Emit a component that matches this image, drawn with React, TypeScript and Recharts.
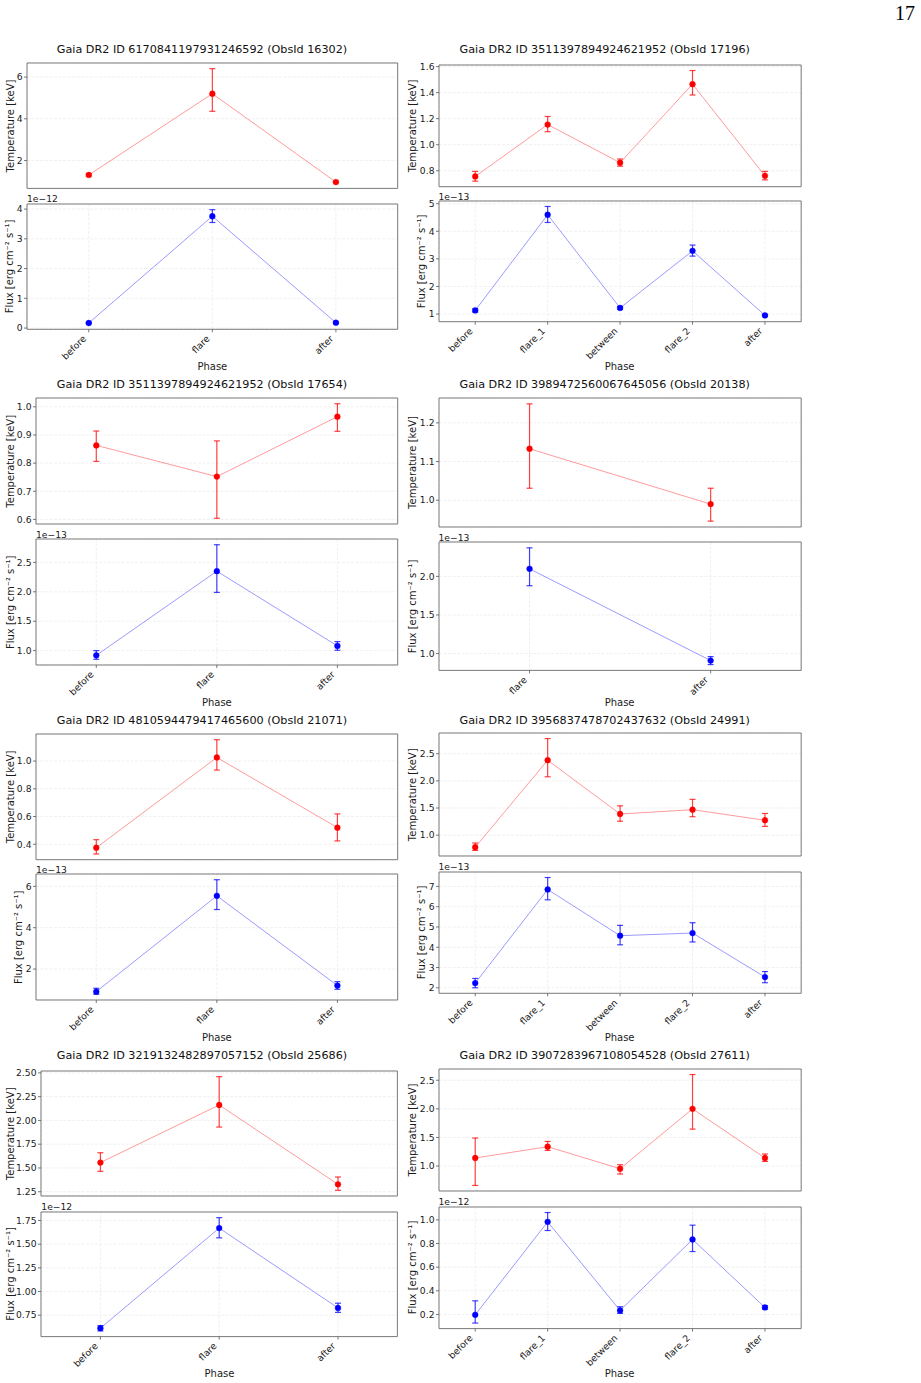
import React from 'react';
import { LineChart, Line, XAxis, YAxis, CartesianGrid, ErrorBar, ReferenceArea } from 'recharts';

const FONT = '"DejaVu Sans", Verdana, sans-serif';
const RED = '#ff0000';
const BLUE = '#0000ff';

// Phase sequences used by the observations
const phasesSingle = ['before', 'flare', 'after'];
const phasesDouble = ['before', 'flare_1', 'between', 'flare_2', 'after'];
const phasesLate = ['flare', 'after'];

// ObsId 16302 — Gaia DR2 6170841197931246592 (flux in 1e-12)
const kT16302 = [1.31, 5.2, 0.97];
const kT16302Lo = [1.25, 4.36, 0.94];
const kT16302Hi = [1.37, 6.4, 1.0];
const fx16302 = [0.17, 3.76, 0.18];
const fx16302Lo = [0.15, 3.55, 0.16];
const fx16302Hi = [0.19, 3.98, 0.2];

// ObsId 17196 — Gaia DR2 3511397894924621952 (flux in 1e-13)
const kT17196 = [0.756, 1.155, 0.862, 1.465, 0.761];
const kT17196Lo = [0.72, 1.1, 0.835, 1.382, 0.73];
const kT17196Hi = [0.795, 1.217, 0.89, 1.57, 0.795];
const fx17196 = [1.13, 4.6, 1.22, 3.29, 0.95];
const fx17196Lo = [1.07, 4.32, 1.17, 3.1, 0.92];
const fx17196Hi = [1.19, 4.9, 1.27, 3.5, 0.98];

// ObsId 17654 — Gaia DR2 3511397894924621952 (flux in 1e-13)
const kT17654 = [0.863, 0.752, 0.965];
const kT17654Lo = [0.806, 0.604, 0.913];
const kT17654Hi = [0.914, 0.879, 1.011];
const fx17654 = [0.92, 2.35, 1.08];
const fx17654Lo = [0.853, 1.99, 1.006];
const fx17654Hi = [1.0, 2.8, 1.153];

// ObsId 20138 — Gaia DR2 3989472560067645056 (flux in 1e-13)
const kT20138 = [1.133, 0.99];
const kT20138Lo = [1.031, 0.946];
const kT20138Hi = [1.249, 1.031];
const fx20138 = [2.098, 0.91];
const fx20138Lo = [1.879, 0.858];
const fx20138Hi = [2.37, 0.961];

// ObsId 21071 — Gaia DR2 4810594479417465600 (flux in 1e-13)
const kT21071 = [0.375, 1.026, 0.52];
const kT21071Lo = [0.33, 0.935, 0.424];
const kT21071Hi = [0.433, 1.154, 0.619];
const fx21071 = [0.907, 5.54, 1.2];
const fx21071Lo = [0.78, 4.88, 1.02];
const fx21071Hi = [1.07, 6.32, 1.39];

// ObsId 24991 — Gaia DR2 3956837478702437632 (flux in 1e-13)
const kT24991 = [0.78, 2.38, 1.39, 1.47, 1.275];
const kT24991Lo = [0.72, 2.075, 1.257, 1.34, 1.163];
const kT24991Hi = [0.856, 2.778, 1.54, 1.66, 1.4];
const fx24991 = [2.23, 6.85, 4.57, 4.7, 2.53];
const fx24991Lo = [2.0, 6.34, 4.12, 4.26, 2.25];
const fx24991Hi = [2.46, 7.44, 5.08, 5.21, 2.8];

// ObsId 25686 — Gaia DR2 3219132482897057152 (flux in 1e-12)
const kT25686 = [1.557, 2.162, 1.328];
const kT25686Lo = [1.465, 1.93, 1.265];
const kT25686Hi = [1.66, 2.46, 1.405];
const fx25686 = [0.613, 1.67, 0.827];
const fx25686Lo = [0.584, 1.567, 0.78];
const fx25686Hi = [0.64, 1.78, 0.877];

// ObsId 27611 — Gaia DR2 3907283967108054528 (flux in 1e-12)
const kT27611 = [1.14, 1.338, 0.953, 2.0, 1.14];
const kT27611Lo = [0.66, 1.273, 0.86, 1.645, 1.08];
const kT27611Hi = [1.49, 1.43, 1.023, 2.6, 1.21];
const fx27611 = [0.197, 0.983, 0.234, 0.834, 0.259];
const fx27611Lo = [0.127, 0.91, 0.209, 0.732, 0.245];
const fx27611Hi = [0.315, 1.062, 0.265, 0.955, 0.275];

// Y tick values
const ticksKT16302 = [2, 4, 6];
const ticksFx16302 = [0, 1, 2, 3, 4];
const ticksKT17196 = [0.8, 1.0, 1.2, 1.4, 1.6];
const ticksFx17196 = [1, 2, 3, 4, 5];
const ticksKT17654 = [0.6, 0.7, 0.8, 0.9, 1.0];
const ticksFx17654 = [1.0, 1.5, 2.0, 2.5];
const ticksKT20138 = [1.0, 1.1, 1.2];
const ticksFx20138 = [1.0, 1.5, 2.0];
const ticksKT21071 = [0.4, 0.6, 0.8, 1.0];
const ticksFx21071 = [2, 4, 6];
const ticksKT24991 = [1.0, 1.5, 2.0, 2.5];
const ticksFx24991 = [2, 3, 4, 5, 6, 7];
const ticksKT25686 = [1.25, 1.5, 1.75, 2.0, 2.25, 2.5];
const ticksFx25686 = [0.75, 1.0, 1.25, 1.5, 1.75];
const ticksKT27611 = [1.0, 1.5, 2.0, 2.5];
const ticksFx27611 = [0.2, 0.4, 0.6, 0.8, 1.0];

type Series = { val: number[]; lo: number[]; hi: number[]; ticks: number[]; dec: number };
type Obs = { gaia: string; obsId: string; phases: string[]; kT: Series; flux: Series; fluxExp: string };

const observations: Obs[] = [
  { gaia: '6170841197931246592', obsId: '16302', phases: phasesSingle, fluxExp: '1e\u221212',
    kT: { val: kT16302, lo: kT16302Lo, hi: kT16302Hi, ticks: ticksKT16302, dec: 0 },
    flux: { val: fx16302, lo: fx16302Lo, hi: fx16302Hi, ticks: ticksFx16302, dec: 0 } },
  { gaia: '3511397894924621952', obsId: '17196', phases: phasesDouble, fluxExp: '1e\u221213',
    kT: { val: kT17196, lo: kT17196Lo, hi: kT17196Hi, ticks: ticksKT17196, dec: 1 },
    flux: { val: fx17196, lo: fx17196Lo, hi: fx17196Hi, ticks: ticksFx17196, dec: 0 } },
  { gaia: '3511397894924621952', obsId: '17654', phases: phasesSingle, fluxExp: '1e\u221213',
    kT: { val: kT17654, lo: kT17654Lo, hi: kT17654Hi, ticks: ticksKT17654, dec: 1 },
    flux: { val: fx17654, lo: fx17654Lo, hi: fx17654Hi, ticks: ticksFx17654, dec: 1 } },
  { gaia: '3989472560067645056', obsId: '20138', phases: phasesLate, fluxExp: '1e\u221213',
    kT: { val: kT20138, lo: kT20138Lo, hi: kT20138Hi, ticks: ticksKT20138, dec: 1 },
    flux: { val: fx20138, lo: fx20138Lo, hi: fx20138Hi, ticks: ticksFx20138, dec: 1 } },
  { gaia: '4810594479417465600', obsId: '21071', phases: phasesSingle, fluxExp: '1e\u221213',
    kT: { val: kT21071, lo: kT21071Lo, hi: kT21071Hi, ticks: ticksKT21071, dec: 1 },
    flux: { val: fx21071, lo: fx21071Lo, hi: fx21071Hi, ticks: ticksFx21071, dec: 0 } },
  { gaia: '3956837478702437632', obsId: '24991', phases: phasesDouble, fluxExp: '1e\u221213',
    kT: { val: kT24991, lo: kT24991Lo, hi: kT24991Hi, ticks: ticksKT24991, dec: 1 },
    flux: { val: fx24991, lo: fx24991Lo, hi: fx24991Hi, ticks: ticksFx24991, dec: 0 } },
  { gaia: '3219132482897057152', obsId: '25686', phases: phasesSingle, fluxExp: '1e\u221212',
    kT: { val: kT25686, lo: kT25686Lo, hi: kT25686Hi, ticks: ticksKT25686, dec: 2 },
    flux: { val: fx25686, lo: fx25686Lo, hi: fx25686Hi, ticks: ticksFx25686, dec: 2 } },
  { gaia: '3907283967108054528', obsId: '27611', phases: phasesDouble, fluxExp: '1e\u221212',
    kT: { val: kT27611, lo: kT27611Lo, hi: kT27611Hi, ticks: ticksKT27611, dec: 1 },
    flux: { val: fx27611, lo: fx27611Lo, hi: fx27611Hi, ticks: ticksFx27611, dec: 1 } },
];

// Page geometry of each figure block: plot rectangles [left, top, right, bottom]
const COL_CENTER = [202, 604.7];
const ROW_TITLE_Y = [52.5, 387.5, 723.5, 1058.5];
const frames = [
  { kT: [27, 63.3, 397.7, 188.7], flux: [27, 203.7, 397.7, 329], kTLabelX: 13.5, fluxLabelX: 13.2, phaseY: 369.5 },
  { kT: [438.5, 65, 800.7, 186.7], flux: [438.5, 201, 800.7, 321.7], kTLabelX: 416.4, fluxLabelX: 424.6, phaseY: 369.5 },
  { kT: [36, 398.3, 397.7, 524.3], flux: [36, 539.3, 397.7, 665.3], kTLabelX: 13.6, fluxLabelX: 13.6, phaseY: 705.5 },
  { kT: [438.5, 398, 800.7, 527], flux: [438.5, 542.3, 800.7, 670.7], kTLabelX: 416.4, fluxLabelX: 416.4, phaseY: 705.5 },
  { kT: [36, 734, 397.7, 859.7], flux: [36, 874.3, 397.7, 1000.3], kTLabelX: 13.6, fluxLabelX: 22.1, phaseY: 1040.5 },
  { kT: [438.5, 733.3, 800.7, 856.3], flux: [438.5, 871.7, 800.7, 993], kTLabelX: 416.4, fluxLabelX: 424.6, phaseY: 1040.5 },
  { kT: [41.3, 1071.3, 397.7, 1196.3], flux: [41.3, 1211.7, 397.7, 1336.3], kTLabelX: 13.6, fluxLabelX: 13.6, phaseY: 1376.5 },
  { kT: [438.5, 1069, 800.7, 1191], flux: [438.5, 1206.7, 800.7, 1328.3], kTLabelX: 416.4, fluxLabelX: 416.4, phaseY: 1376.5 },
];

function PhaseTick(props: any) {
  const { x, y, payload, phases } = props;
  const ax = x - 2;
  const ay = y + 5;
  return (
    <text x={ax} y={ay} transform={`rotate(-45 ${ax} ${ay})`} textAnchor="end" fontSize={9.2}
      fill="#1a1a1a" fontFamily={FONT}>
      {phases[payload.value]}
    </text>
  );
}

function Subplot({ rect, phases, series, color, showLabels }: {
  rect: number[]; phases: string[]; series: Series; color: string; showLabels: boolean;
}) {
  const [x0, y0, x1, y1] = rect;
  const PADL = 44, PADT = 4, PADR = 4;
  const PADB = showLabels ? 58 : 8;
  const n = phases.length;
  const rows = phases.map((p, i) => ({
    i, phase: p, v: series.val[i], err: [series.val[i] - series.lo[i], series.hi[i] - series.val[i]],
  }));
  // autoscaled limits: data extent including error bars plus 5% margins
  const yLo = Math.min(...series.lo);
  const yHi = Math.max(...series.hi);
  const m = (yHi - yLo) * 0.05;
  const domain: [number, number] = [yLo - m, yHi + m];
  const xDomain: [number, number] = [-0.5, n - 0.5];
  return (
    <div style={{ position: 'absolute', left: x0 - PADL, top: y0 - PADT }}>
      <LineChart width={x1 - x0 + PADL + PADR} height={y1 - y0 + PADT + PADB} data={rows}
        margin={{ top: PADT, right: PADR, bottom: 0, left: 0 }}>
        <CartesianGrid stroke="#eeeeee" strokeDasharray="3 1.5" strokeWidth={0.9} />
        <XAxis type="number" dataKey="i" domain={xDomain} allowDataOverflow ticks={phases.map((_, i) => i)}
          interval={0} height={PADB} axisLine={false} tickSize={3} tickMargin={2}
          tickLine={{ stroke: '#555', strokeWidth: 0.8 }}
          tick={showLabels ? <PhaseTick phases={phases} /> : false} />
        <YAxis type="number" domain={domain} allowDataOverflow ticks={series.ticks} interval={0}
          width={PADL} axisLine={false} tickSize={3} tickMargin={1.5}
          tickLine={{ stroke: '#555', strokeWidth: 0.8 }}
          tick={{ fontSize: 9.2, fill: '#1a1a1a', fontFamily: FONT }}
          tickFormatter={(t: number) => t.toFixed(series.dec)} />
        <ReferenceArea x1={xDomain[0]} x2={xDomain[1]} y1={domain[0]} y2={domain[1]}
          fill="none" fillOpacity={0} stroke="#7a7a7a" strokeWidth={1} ifOverflow="visible" />
        <Line type="linear" dataKey="v" stroke={color} strokeOpacity={0.4} strokeWidth={1}
          isAnimationActive={false} activeDot={false}
          dot={{ r: 2.9, fill: color, stroke: color, strokeOpacity: 1, strokeWidth: 0.4 }}>
          <ErrorBar dataKey="err" width={3} stroke={color} strokeWidth={1.2} strokeOpacity={0.75}
            direction="y" isAnimationActive={false} />
        </Line>
      </LineChart>
    </div>
  );
}

export default function App() {
  return (
    <div style={{ position: 'absolute', left: 0, top: 0, width: 921, height: 1383, background: '#fff' }}>
      {observations.map((o, k) => (
        <React.Fragment key={o.obsId}>
          <Subplot rect={frames[k].kT} phases={o.phases} series={o.kT} color={RED} showLabels={false} />
          <Subplot rect={frames[k].flux} phases={o.phases} series={o.flux} color={BLUE} showLabels={true} />
        </React.Fragment>
      ))}
      <svg width={921} height={1383} style={{ position: 'absolute', left: 0, top: 0, pointerEvents: 'none' }}>
        <text x={915} y={19.5} textAnchor="end" fontSize={20} fontFamily='"Liberation Serif", serif' fill="#000">17</text>
        {observations.map((o, k) => {
          const f = frames[k];
          const col = k % 2;
          const row = Math.floor(k / 2);
          const kTMid = (f.kT[1] + f.kT[3]) / 2;
          const fxMid = (f.flux[1] + f.flux[3]) / 2;
          return (
            <g key={o.obsId} fontFamily={FONT}>
              <text x={COL_CENTER[col]} y={ROW_TITLE_Y[row]} textAnchor="middle" fontSize={11.2} fill="#111">
                {`Gaia DR2 ID ${o.gaia} (ObsId ${o.obsId})`}
              </text>
              <text x={f.kTLabelX} y={kTMid} transform={`rotate(-90 ${f.kTLabelX} ${kTMid})`}
                textAnchor="middle" fontSize={10} fill="#1a1a1a">Temperature [keV]</text>
              <text x={f.fluxLabelX} y={fxMid} transform={`rotate(-90 ${f.fluxLabelX} ${fxMid})`}
                textAnchor="middle" fontSize={10} fill="#1a1a1a">{'Flux [erg cm\u207b\u00b2 s\u207b\u00b9]'}</text>
              <text x={f.flux[0]} y={f.flux[1] - 1.3} fontSize={9.2} fill="#1a1a1a">{o.fluxExp}</text>
              <text x={(f.flux[0] + f.flux[2]) / 2} y={f.phaseY} textAnchor="middle" fontSize={10} fill="#1a1a1a">Phase</text>
            </g>
          );
        })}
      </svg>
    </div>
  );
}
